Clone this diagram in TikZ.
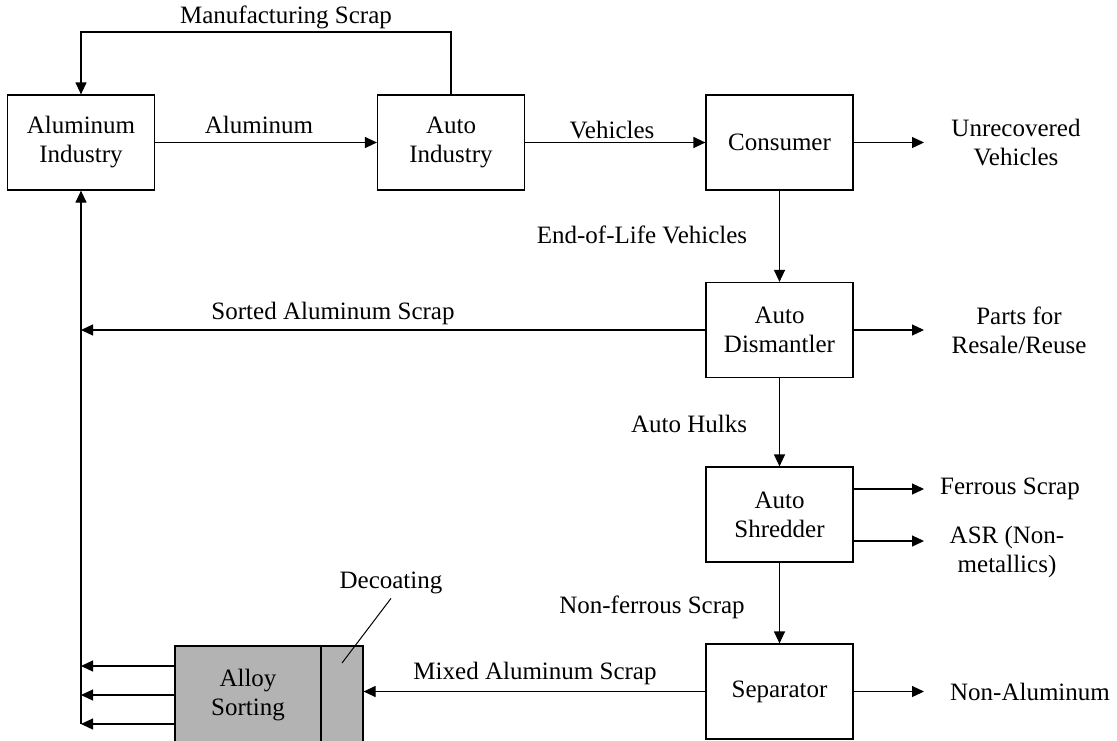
\documentclass[tikz,border=0pt]{standalone}
\usepackage{fontspec}
\setmainfont{Liberation Serif}
\usetikzlibrary{arrows.meta}
\tikzstyle{every node}=[font=\fontsize{12.5}{14.5}\selectfont, align=center]
\tikzstyle{block}=[draw=black, line width=0.6pt, minimum width=73.5pt, minimum height=47.5pt, inner sep=0pt]
\tikzstyle{graybox}=[block, fill={rgb,255:red,179;green,179;blue,179}, minimum height=49pt]
\tikzstyle{lbl}=[inner sep=2pt]
\tikzstyle{flow}=[draw=black, line width=0.6pt, -{Triangle[length=6pt,width=5.5pt]}]

\begin{document}
\begin{tikzpicture}[x=0.5pt, y=-0.5pt]
      \useasboundingbox (0,0) rectangle (1117,740);
      \node [block] (alind) at (81,142.5) {Aluminum\\Industry};
      \node [block] (autoind) at (451,142.5) {Auto\\Industry};
      \node [block] (consumer) at (779.5,142.5) {Consumer};
      \node [block] (dismantler) at (779.5,330) {Auto\\Dismantler};
      \node [block] (shredder) at (779.5,514.5) {Auto\\Shredder};
      \node [block] (separator) at (779.5,691.5) {Separator};
      \node [graybox, minimum width=73pt] (alloy) at (248,695) {Alloy\\Sorting};
      \node [graybox, minimum width=21pt] (decoat) at (342,695) {};

      \coordinate (top) at (0,32);
      \coordinate (unrec) at (924,142.5);
      \coordinate (parts) at (924,330);
      \coordinate (ferr) at (924,489);
      \coordinate (asr) at (924,541);
      \coordinate (nonal) at (924,691.5);
      \coordinate (out1) at ([yshift=14.5pt]alloy.west);
      \coordinate (out2) at (alloy.west);
      \coordinate (out3) at ([yshift=-14.5pt]alloy.west);

      \node [lbl] (mfgtext) at (286,17) {Manufacturing Scrap};
      \node [lbl] (altext) at (259,125) {Aluminum};
      \node [lbl] (vehtext) at (612,130) {Vehicles};
      \node [lbl] (unrectext) at (1016,142.5) {Unrecovered\\Vehicles};
      \node [lbl] (eoltext) at (642,235) {End-of-Life Vehicles};
      \node [lbl] (sortedtext) at (333,313) {Sorted Aluminum Scrap};
      \node [lbl] (partstext) at (1019,330) {Parts for\\Resale/Reuse};
      \node [lbl] (hulktext) at (689,424) {Auto Hulks};
      \node [lbl] (ferrtext) at (1010,489) {Ferrous Scrap};
      \node [lbl] (asrtext) at (1007,552) {ASR (Non-\\metallics)};
      \node [lbl] (nfetext) at (652,607) {Non-ferrous Scrap};
      \node [lbl] (mixtext) at (535,673) {Mixed Aluminum Scrap};
      \node [lbl] (nonaltext) at (1030,691.5) {Non-Aluminum};
      \node [lbl] (decotext) at (391,583) {Decoating};

      \draw [flow] (alind) -- (autoind);
      \draw [flow] (autoind.north) -- (autoind.north |- top) -| (alind.north);
      \draw [flow] (autoind) -- (consumer);
      \draw [flow] (consumer) -- (unrec);
      \draw [flow] (consumer) -- (dismantler);
      \draw [flow] (dismantler) -- (parts);
      \draw [flow] (dismantler.west) -- (dismantler.west -| alind.south);
      \draw [flow] (dismantler) -- (shredder);
      \draw [flow] (shredder.east |- ferr) -- (ferr);
      \draw [flow] (shredder.east |- asr) -- (asr);
      \draw [flow] (shredder) -- (separator);
      \draw [flow] (separator) -- (nonal);
      \draw [flow] (separator.west) -- (separator.west -| decoat.east);
      \draw [flow] (out1) -- (out1 -| alind.south);
      \draw [flow] (out2) -- (out2 -| alind.south);
      \draw [flow] (out3) -- (out3 -| alind.south);
      \draw [flow] (out3 -| alind.south) -- (alind.south);
      \draw [line width=0.5pt] (decotext.south) -- ([yshift=16pt]decoat.center);
\end{tikzpicture}
\end{document}
